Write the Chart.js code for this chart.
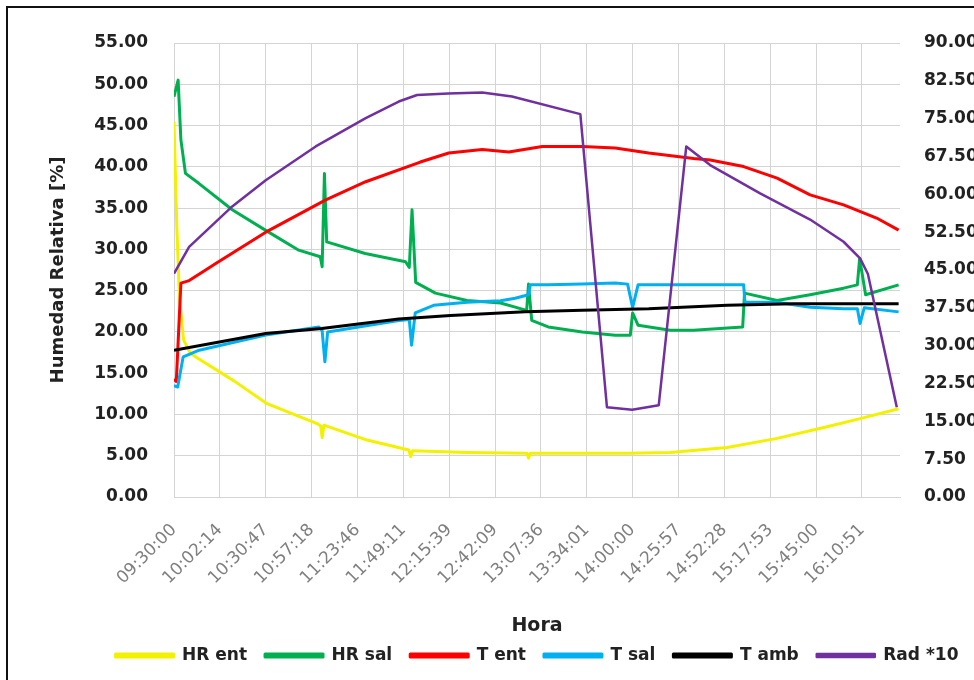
<!DOCTYPE html>
<html>
<head>
<meta charset="utf-8">
<script src="https://cdn.jsdelivr.net/npm/chart.js@4/dist/chart.umd.min.js"></script>
<style>
  html, body { margin: 0; background: #fff; overflow: hidden; }
  #frame { position: absolute; left: 6px; top: 6px; width: 1000px; height: 700px;
           border-left: 2px solid #111; border-top: 2px solid #111; }
  /* canvas runs past the right edge so the legend centres under the plot */
  #wrap { position: absolute; left: 0; top: 0; width: 1074px; height: 680px; }
</style>
</head>
<body>
<div id="frame"></div>
<div id="wrap"><canvas id="chart" width="1074" height="680"></canvas></div>
<script>
// x = sample position on the category axis (1 unit = one labelled step)
const timeLabels = ['09:30:00', '10:02:14', '10:30:47', '10:57:18', '11:23:46', '11:49:11',
  '12:15:39', '12:42:09', '13:07:36', '13:34:01', '14:00:00', '14:25:57', '14:52:28',
  '15:17:53', '15:45:00', '16:10:51'];
const lastPos = 15.83;

// humidity series, left axis [%]
const hrEnt = [[0,45.5],[0.06,33],[0.12,24],[0.21,19],[0.36,17.4],[0.58,16.6],[1.3,14.1],
  [2.03,11.3],[3.12,8.9],[3.2,8.6],[3.23,7.2],[3.27,8.7],[4.21,6.9],[5.12,5.7],[5.16,4.9],
  [5.2,5.6],[6.39,5.4],[7.7,5.3],[7.73,4.7],[7.77,5.3],[8.16,5.3],[9.9,5.3],[10.82,5.4],
  [12.06,6.0],[13.15,7.1],[14.24,8.5],[14.96,9.5],[15.8,10.7]];
const hrSal = [[0,48.5],[0.09,50.5],[0.15,43.3],[0.25,39.2],[0.54,38.0],[1.27,34.8],[2.0,32.3],
  [2.72,29.9],[3.19,29.1],[3.23,27.9],[3.28,39.2],[3.33,30.9],[4.17,29.5],[5.05,28.5],
  [5.13,27.8],[5.19,34.8],[5.27,26.0],[5.7,24.7],[6.39,23.8],[7.12,23.5],[7.44,23.0],
  [7.69,22.6],[7.73,25.8],[7.8,21.4],[8.16,20.6],[8.9,20.0],[9.62,19.6],[9.95,19.6],
  [10.0,22.3],[10.12,20.8],[10.82,20.2],[11.33,20.2],[12.4,20.6],[12.44,24.7],[13.15,23.8],
  [13.87,24.5],[14.6,25.3],[14.9,25.7],[14.95,28.9],[15.08,24.5],[15.8,25.7]];

// temperatures and radiation, right axis
const tEnt = [[0,23.4],[0.05,22.9],[0.15,42.4],[0.33,42.9],[0.69,45.0],[0.91,46.3],[2.0,52.5],
  [3.31,58.9],[4.18,62.5],[5.37,66.4],[5.99,68.2],[6.72,68.9],[7.3,68.4],[8.03,69.5],
  [8.9,69.5],[9.62,69.2],[10.35,68.2],[11.33,67.1],[11.69,66.8],[12.42,65.5],[13.15,63.2],
  [13.87,59.9],[14.6,57.9],[15.32,55.3],[15.8,52.9]];
const tSal = [[0,22.1],[0.08,21.8],[0.2,27.8],[0.55,29.1],[2.0,32.1],[3.16,33.7],[3.23,33.0],
  [3.29,26.8],[3.35,32.7],[4.9,35.0],[5.13,35.2],[5.18,30.1],[5.26,36.5],[5.66,38.0],
  [6.39,38.6],[7.12,38.9],[7.44,39.4],[7.73,40.1],[7.77,42.1],[8.16,42.1],[8.9,42.2],
  [9.62,42.4],[9.89,42.2],[10.0,37.6],[10.12,42.1],[12.42,42.1],[12.45,38.6],[13.15,38.6],
  [13.87,37.6],[14.6,37.3],[14.9,37.3],[14.96,34.4],[15.05,37.5],[15.8,36.7]];
const tAmb = [[0,29.1],[2.0,32.4],[3.22,33.4],[4.9,35.3],[6.03,36.0],[7.66,36.7],[8.9,37.0],
  [10.35,37.3],[12.06,38.0],[13.5,38.3],[15.8,38.3]];
const rad10 = [[0,44.3],[0.33,49.6],[1.27,57.6],[2.0,62.8],[3.09,69.5],[4.18,75.1],[4.9,78.4],
  [5.3,79.7],[5.98,80.0],[6.72,80.2],[7.37,79.4],[8.86,75.9],[9.44,17.8],[9.99,17.3],
  [10.57,18.2],[11.17,69.5],[11.69,65.8],[12.78,60.2],[13.87,55.0],[14.6,50.6],[14.96,47.3],
  [15.13,44.2],[15.76,17.8]];

const gridColor = '#d4d4d4';
const textColor = '#222';
const boldFont = { family: 'DejaVu Sans', weight: 'bold', size: 17 };

function line(label, data, color, axis, order, width) {
  return {
    label: label, data: data, yAxisID: axis, order: order,
    borderColor: color, backgroundColor: color, borderWidth: width || 3,
    pointRadius: 0, fill: false, tension: 0, borderJoinStyle: 'round'
  };
}

new Chart(document.getElementById('chart'), {
  type: 'line',
  data: {
    datasets: [
      line('HR ent', hrEnt, '#f2f200', 'y', 6),
      line('HR sal', hrSal, '#00b050', 'y', 5),
      line('T ent', tEnt, '#ff0000', 'y1', 4),
      line('T sal', tSal, '#00b0f0', 'y1', 3),
      line('T amb', tAmb, '#000000', 'y1', 2),
      line('Rad *10', rad10, '#7030a0', 'y1', 1, 2.5)
    ]
  },
  options: {
    responsive: false,
    animation: false,
    devicePixelRatio: 1,
    layout: { padding: { left: 0, right: 0, top: 43, bottom: 6 } },
    plugins: {
      tooltip: { enabled: false },
      legend: {
        position: 'bottom',
        reverse: true,
        labels: { boxWidth: 58, boxHeight: 3, padding: 18, color: textColor, font: boldFont }
      }
    },
    scales: {
      x: {
        type: 'linear', min: 0, max: lastPos,
        grid: { color: gridColor, drawTicks: false },
        border: { color: gridColor },
        ticks: {
          stepSize: 1, includeBounds: false, maxTicksLimit: 30, autoSkip: false,
          minRotation: 45, maxRotation: 45, padding: 23,
          color: '#7f7f7f', font: { family: 'DejaVu Sans', size: 17 },
          callback: v => timeLabels[v]
        },
        title: { display: true, text: 'Hora', color: textColor,
                 font: { family: 'DejaVu Sans', weight: 'bold', size: 19, lineHeight: 1 },
                 padding: { top: 0, bottom: -7 } },
        afterFit: s => { s.height = 132; }
      },
      y: {
        position: 'left', min: 0, max: 55,
        grid: { color: gridColor, drawTicks: false },
        border: { color: gridColor },
        ticks: { stepSize: 5, maxTicksLimit: 30, padding: 26, color: textColor, font: boldFont,
                 callback: v => v.toFixed(2) },
        title: { display: true, text: 'Humedad Relativa [%]', color: textColor,
                 font: { family: 'DejaVu Sans', weight: 'bold', size: 18, lineHeight: 1 },
                 padding: { top: 49, bottom: 0 } },
        afterFit: s => { s.width = 174; }
      },
      y1: {
        position: 'right', min: 0, max: 90,
        grid: { display: false, drawTicks: false },
        border: { display: false },
        ticks: { stepSize: 7.5, maxTicksLimit: 30, padding: 24, color: textColor, font: boldFont,
                 callback: v => v.toFixed(2) },
        afterFit: s => { s.width = 174; }
      }
    }
  }
});
</script>
</body>
</html>
